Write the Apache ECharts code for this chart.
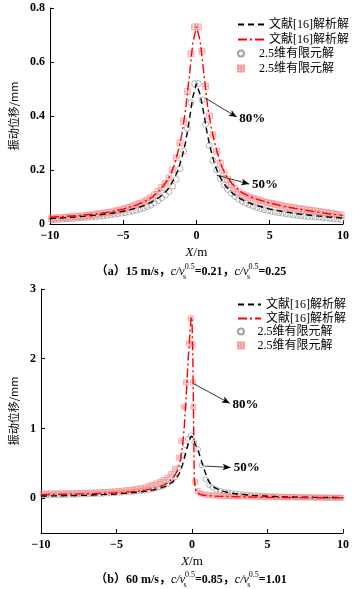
<!DOCTYPE html>
<html>
<head>
<meta charset="utf-8">
<script src="https://cdn.jsdelivr.net/npm/echarts@6/dist/echarts.min.js"></script>
<style>
  html,body{margin:0;padding:0;background:#fff;}
  #chart{width:354px;height:589px;}
</style>
</head>
<body>
<div id="chart"></div>
<script>
// ---- (a) 15 m/s ----
var feX_a = [-9.875,-9.625,-9.375,-9.125,-8.875,-8.625,-8.375,-8.125,-7.875,-7.625,-7.375,-7.125,-6.875,-6.625,-6.375,-6.125,-5.875,-5.625,-5.375,-5.125,
  -4.875,-4.625,-4.375,-4.125,-3.875,-3.625,-3.375,-3.125,-2.875,-2.625,-2.375,-2.125,-1.875,-1.625,-1.375,-1.125,-0.875,-0.625,-0.375,-0.125,
  0.125,0.375,0.625,0.875,1.125,1.375,1.625,1.875,2.125,2.375,2.625,2.875,3.125,3.375,3.625,3.875,4.125,4.375,4.625,4.875,
  5.125,5.375,5.625,5.875,6.125,6.375,6.625,6.875,7.125,7.375,7.625,7.875,8.125,8.375,8.625,8.875,9.125,9.375,9.625,9.875];
var fe50_a = [0.015,0.016,0.017,0.018,0.019,0.020,0.021,0.022,0.023,0.024,0.025,0.026,0.027,0.029,0.030,0.032,0.034,0.036,0.038,0.040,
  0.042,0.045,0.048,0.051,0.055,0.059,0.064,0.070,0.078,0.087,0.097,0.108,0.120,0.140,0.165,0.205,0.270,0.355,0.450,0.520,
  0.520,0.460,0.370,0.290,0.235,0.200,0.168,0.145,0.128,0.114,0.102,0.092,0.084,0.077,0.071,0.066,0.061,0.057,0.053,0.050,
  0.047,0.044,0.042,0.040,0.038,0.036,0.034,0.032,0.031,0.029,0.028,0.027,0.026,0.025,0.023,0.022,0.021,0.019,0.018,0.017];
var fe80_a = [0.021,0.022,0.023,0.024,0.025,0.026,0.027,0.028,0.029,0.030,0.032,0.034,0.036,0.038,0.040,0.042,0.044,0.047,0.050,0.053,
  0.057,0.061,0.066,0.071,0.076,0.082,0.089,0.097,0.108,0.120,0.135,0.150,0.170,0.200,0.245,0.300,0.380,0.490,0.630,0.730,
  0.730,0.640,0.510,0.400,0.330,0.270,0.225,0.190,0.165,0.146,0.130,0.118,0.110,0.104,0.099,0.095,0.090,0.086,0.082,0.079,
  0.076,0.073,0.070,0.067,0.064,0.062,0.060,0.058,0.056,0.054,0.052,0.050,0.048,0.046,0.044,0.042,0.040,0.038,0.035,0.033];
var anaX_a = [-10,-9,-8,-7,-6,-5,-4,-3.5,-3,-2.5,-2,-1.75,-1.5,-1.25,-1,-0.75,-0.5,-0.25,0,0.25,0.5,0.75,1,1.25,1.5,1.75,2,2.5,3,3.5,4,5,6,7,8,9,10];
var ana50_a = [0.020,0.023,0.027,0.032,0.038,0.047,0.060,0.070,0.083,0.100,0.125,0.145,0.170,0.200,0.245,0.300,0.380,0.470,0.520,
  0.480,0.410,0.330,0.270,0.220,0.185,0.160,0.140,0.112,0.093,0.080,0.070,0.055,0.045,0.037,0.031,0.026,0.022];
var ana80_a = [0.025,0.028,0.032,0.037,0.044,0.055,0.072,0.085,0.100,0.125,0.160,0.185,0.220,0.270,0.330,0.420,0.540,0.670,0.730,
  0.680,0.560,0.440,0.360,0.300,0.250,0.210,0.180,0.145,0.120,0.105,0.094,0.078,0.065,0.055,0.046,0.038,0.032];

// ---- (b) 60 m/s ----
var fe50X_b = [-9.875,-9.625,-9.375,-9.125,-8.875,-8.625,-8.375,-8.125,-7.875,-7.625,-7.375,-7.125,-6.875,-6.625,-6.375,-6.125,-5.875,-5.625,-5.375,-5.125,
  -4.875,-4.625,-4.375,-4.125,-3.875,-3.625,-3.375,-3.125,-2.875,-2.625,-2.375,-2.125,-1.875,-1.625,-1.375,-1.125,
  -0.875,-0.625,-0.44,-0.28,-0.07,0.15,0.41,0.63,0.9,1.125,
  1.375,1.625,1.875,2.125,2.375,2.625,2.875,3.125,3.375,3.625,3.875,4.125,4.375,4.625,4.875,
  5.125,5.375,5.625,5.875,6.125,6.375,6.625,6.875,7.125,7.375,7.625,7.875,8.125,8.375,8.625,8.875,9.125,9.375,9.625,9.875];
var fe50_b = [0.040,0.041,0.042,0.043,0.044,0.045,0.046,0.047,0.048,0.050,0.051,0.053,0.055,0.057,0.059,0.061,0.063,0.066,0.069,0.072,
  0.075,0.079,0.083,0.087,0.092,0.097,0.103,0.110,0.118,0.128,0.140,0.155,0.175,0.200,0.240,0.300,
  0.430,0.620,0.760,0.850,0.900,0.800,0.700,0.470,0.270,0.190,
  0.150,0.122,0.105,0.092,0.082,0.074,0.067,0.061,0.056,0.051,0.047,0.043,0.040,0.037,0.034,
  0.031,0.029,0.027,0.025,0.023,0.021,0.020,0.018,0.017,0.016,0.015,0.014,0.013,0.012,0.011,0.010,0.010,0.009,0.009,0.008];
var fe80X_b = [-9.875,-9.625,-9.375,-9.125,-8.875,-8.625,-8.375,-8.125,-7.875,-7.625,-7.375,-7.125,-6.875,-6.625,-6.375,-6.125,-5.875,-5.625,-5.375,-5.125,
  -4.875,-4.625,-4.375,-4.125,-3.875,-3.625,-3.375,-3.125,-2.875,-2.625,-2.375,-2.125,-1.875,-1.625,-1.375,-1.125,
  -0.875,-0.72,-0.55,-0.4,-0.2,-0.07,0.03,0.06,0.09,0.22,
  0.375,0.625,0.875,1.125,1.375,1.625,1.875,2.125,2.375,2.625,2.875,3.125,3.375,3.625,3.875,4.125,4.375,4.625,4.875,
  5.125,5.375,5.625,5.875,6.125,6.375,6.625,6.875,7.125,7.375,7.625,7.875,8.125,8.375,8.625,8.875,9.125,9.375,9.625,9.875];
var fe80_b = [0.065,0.066,0.067,0.068,0.069,0.070,0.071,0.072,0.073,0.074,0.076,0.077,0.079,0.081,0.083,0.085,0.088,0.091,0.094,0.098,
  0.102,0.107,0.112,0.118,0.125,0.133,0.142,0.152,0.175,0.190,0.210,0.235,0.260,0.295,0.345,0.420,
  0.580,0.820,1.310,1.660,2.220,2.580,2.200,1.660,1.310,0.230,
  0.100,0.065,0.050,0.045,0.040,0.037,0.034,0.032,0.030,0.028,0.026,0.025,0.024,0.023,0.022,0.021,0.020,0.019,0.018,
  0.017,0.016,0.015,0.014,0.013,0.012,0.012,0.011,0.010,0.010,0.009,0.009,0.008,0.008,0.007,0.007,0.006,0.006,0.005,0.005];
var anaX_b = [-10,-9,-8,-7,-6,-5,-4,-3.5,-3,-2.5,-2,-1.75,-1.5,-1.25,-1,-0.875,-0.75,-0.625,-0.5,-0.375,-0.25,-0.125,-0.05,0,
  0.05,0.1,0.15,0.2,0.3,0.4,0.5,0.6,0.75,1,1.25,1.5,2,2.5,3,4,5,6,7,8,9,10];
var ana50_b = [0.030,0.033,0.037,0.042,0.050,0.060,0.077,0.088,0.100,0.120,0.150,0.170,0.200,0.240,0.300,0.340,0.400,0.480,0.580,0.680,0.780,0.860,0.890,0.900,
  0.890,0.860,0.820,0.780,0.760,0.690,0.620,0.550,0.450,0.290,0.190,0.150,0.100,0.075,0.060,0.040,0.028,0.020,0.015,0.012,0.010,0.008];
var ana80_b = [0.050,0.053,0.057,0.062,0.068,0.077,0.092,0.103,0.118,0.140,0.175,0.200,0.235,0.290,0.380,0.450,0.560,0.750,1.050,1.500,2.000,2.400,2.600,2.550,
  2.100,1.200,0.300,0.150,0.090,0.065,0.055,0.048,0.042,0.036,0.032,0.029,0.025,0.022,0.019,0.015,0.012,0.010,0.008,0.006,0.005,0.004];

var legendNames = {
  a_ana50:'文献[16]解析解', a_ana80:'文献[16]解析解', a_fe50:'2.5维有限元解', a_fe80:'2.5维有限元解',
  b_ana50:'文献[16]解析解', b_ana80:'文献[16]解析解', b_fe50:'2.5维有限元解', b_fe80:'2.5维有限元解'
};

function zip(xs, ys){
  var out = [];
  for (var i = 0; i < xs.length; i++) out.push([xs[i], ys[i]]);
  return out;
}

var serif = '"Liberation Serif","Noto Sans CJK SC",serif';
var squarePath = 'path://M0 0H10V10H0Z M5 0V10 M0 5H10';

function xAxisOf(i){
  return {
    type:'value', gridIndex:i, min:-10, max:10, interval:5,
    name:'{i|X}/m', nameLocation:'middle', nameGap:22,
    nameTextStyle:{fontFamily:serif, fontSize:13, color:'#000',
      rich:{i:{fontStyle:'italic', fontFamily:serif, fontSize:13, color:'#000'}}},
    axisLine:{onZero:false, lineStyle:{color:'#000', width:1}},
    axisTick:{inside:true, length:4, lineStyle:{color:'#000'}},
    axisLabel:{fontFamily:serif, fontWeight:'bold', fontSize:12, color:'#000', margin:6,
      formatter:function(v){ return String(v).replace('-', '\u2212'); }},
    splitLine:{show:false}
  };
}
function yAxisOf(i, min, max, ticks){
  return {
    type:'value', gridIndex:i, min:min, max:max,
    name:'振动位移/mm', nameLocation:'middle', nameGap:22,
    nameTextStyle:{fontFamily:'"Noto Sans CJK SC",sans-serif', fontSize:11, color:'#000'},
    axisLine:{show:true, onZero:false, lineStyle:{color:'#000', width:1}},
    axisTick:{inside:true, length:4, lineStyle:{color:'#000'}, customValues:ticks},
    axisLabel:{fontFamily:serif, fontWeight:'bold', fontSize:12, color:'#000', margin:5, customValues:ticks},
    splitLine:{show:false}
  };
}

function arrow(x1, y1, x2, y2, text){
  return [
    {coord:[x1, y1], symbol:'none'},
    {coord:[x2, y2], symbol:'arrow', symbolSize:[5, 8],
      label:{show:true, position:'end', distance:3, formatter:text,
        fontFamily:serif, fontWeight:'bold', fontSize:13, color:'#000'}}
  ];
}

function seriesOf(i, p, d){
  var dash = {color:'#000', width:1.4, type:[6,4]};
  var dashDot = {color:'#ff0000', width:1.4, type:[9,3,2,3]};
  return [
    {name:p+'_fe50', type:'scatter', xAxisIndex:i, yAxisIndex:i, data:d.fe50,
      symbol:'circle', symbolSize:d.size,
      itemStyle:{color:'rgba(255,255,255,0)', borderColor:'#8c8c8c', borderWidth:0.8}},
    {name:p+'_fe80', type:'scatter', xAxisIndex:i, yAxisIndex:i, data:d.fe80,
      symbol:squarePath, symbolSize:d.size,
      itemStyle:{color:'rgba(255,170,170,0.35)', borderColor:'#f28b8b', borderWidth:0.8}},
    {name:p+'_ana50', type:'line', xAxisIndex:i, yAxisIndex:i, data:d.ana50,
      symbol:'none', lineStyle:dash, itemStyle:{color:'#000', opacity:0},
      markLine:{silent:true, symbol:['none','arrow'], lineStyle:{color:'#000', width:0.8, type:'solid', opacity:1},
        itemStyle:{opacity:1}, data:d.arrows}},
    {name:p+'_ana80', type:'line', xAxisIndex:i, yAxisIndex:i, data:d.ana80,
      symbol:'none', lineStyle:dashDot, itemStyle:{color:'#ff0000', opacity:0}}
  ];
}

function legendOf(names, top, width, height, gap){
  return {
    orient:'vertical', left:232, top:top, itemWidth:width, itemHeight:height, itemGap:gap,
    data:names,
    formatter:function(n){ return legendNames[n]; },
    textStyle:{fontFamily:serif, fontSize:12, color:'#000', lineHeight:13}
  };
}

var capRich = {
  i:{fontStyle:'italic', fontFamily:serif, fontSize:12, fill:'#000'},
  sb:{fontFamily:serif, fontSize:8, fill:'#000', verticalAlign:'bottom', lineHeight:18, width:0},
  sp:{fontFamily:serif, fontSize:8, fill:'#000', verticalAlign:'top', lineHeight:18}
};
function caption(y, tag, speed, v1, v2){
  return {
    type:'text', x:191, y:y,
    style:{
      text:'（'+tag+'）'+speed+'，{i|c/v}{sb|s}{sp|0.5}='+v1+'，{i|c/v}{sb|s}{sp|0.5}='+v2,
      font:'bold 12px '+serif, fill:'#000', align:'center', verticalAlign:'middle', rich:capRich
    }
  };
}

var chart = echarts.init(document.getElementById('chart'), null, {renderer:'canvas'});

chart.setOption({
  animation:false,
  backgroundColor:'#fff',
  grid:[
    {left:38, top:8, width:305, height:216},
    {left:38, top:289, width:305, height:244}
  ],
  xAxis:[xAxisOf(0), xAxisOf(1)],
  yAxis:[yAxisOf(0, 0, 0.8, [0,0.2,0.4,0.6,0.8]), yAxisOf(1, -0.5, 3, [0,1,2,3])],
  legend:[
    legendOf(['a_ana50','a_ana80'], 13, 26, 10, 2),
    legendOf(['a_fe50','a_fe80'], 42, 26, 6, 2),
    legendOf(['b_ana50','b_ana80'], 293, 23, 10, 1),
    legendOf(['b_fe50','b_fe80'], 320, 23, 6, 1)
  ],
  series:[].concat(
    seriesOf(0, 'a', {
      fe50:zip(feX_a, fe50_a), fe80:zip(feX_a, fe80_a),
      ana50:zip(anaX_a, ana50_a), ana80:zip(anaX_a, ana80_a), size:6,
      arrows:[arrow(0.59, 0.467, 2.75, 0.396, '80%'), arrow(1.38, 0.181, 3.6, 0.148, '50%')]
    }),
    seriesOf(1, 'b', {
      fe50:zip(fe50X_b, fe50_b), fe80:zip(fe80X_b, fe80_b),
      ana50:zip(anaX_b, ana50_b), ana80:zip(anaX_b, ana80_b), size:5,
      arrows:[arrow(0.13, 1.64, 2.5, 1.36, '80%'), arrow(0.85, 0.46, 2.56, 0.44, '50%')]
    })
  ),
  graphic:[caption(272, 'a', '15 m/s', '0.21', '0.25'), caption(580, 'b', '60 m/s', '0.85', '1.01')]
});
</script>
</body>
</html>
